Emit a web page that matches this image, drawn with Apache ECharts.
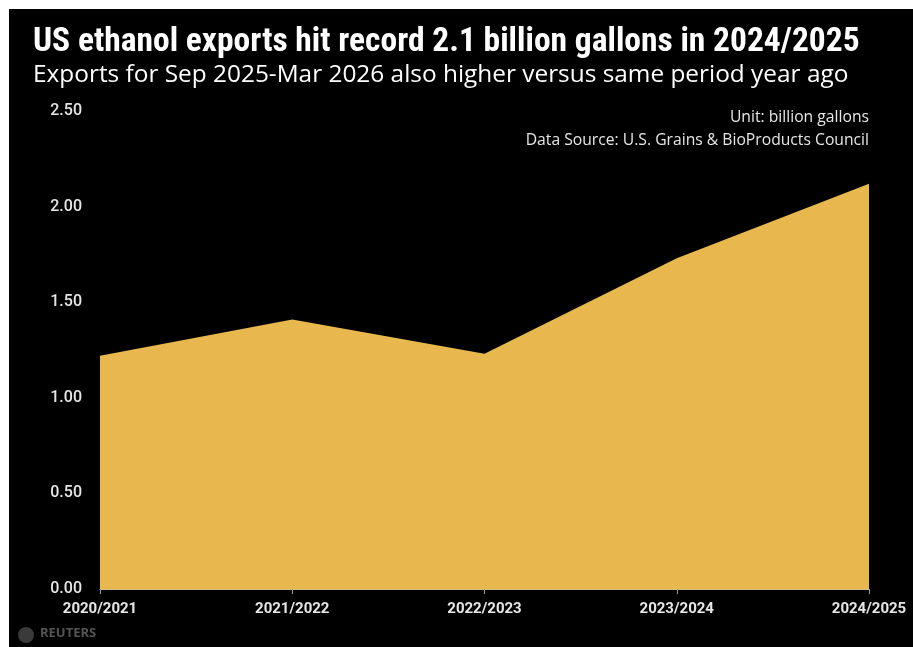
<!DOCTYPE html>
<html>
<head>
<meta charset="utf-8">
<script src="https://cdn.jsdelivr.net/npm/echarts@6/dist/echarts.min.js"></script>
<style>
html,body{margin:0;padding:0;background:#ffffff;width:913px;height:647px;overflow:hidden;}
#chart{position:absolute;left:9px;top:9px;width:904px;height:638px;background:#000;}
</style>
</head>
<body>
<div id="chart"></div>
<script>
const categories = ['2020/2021', '2021/2022', '2022/2023', '2023/2024', '2024/2025'];
const exportsBillionGallons = [1.22, 1.41, 1.23, 1.73, 2.12];
const yTicks = [0, 0.5, 1.0, 1.5, 2.0, 2.5];
const titleText = 'US ethanol exports hit record 2.1 billion gallons in 2024/2025';
const subtitleText = 'Exports for Sep 2025-Mar 2026 also higher versus same period year ago';
const unitText = 'Unit: billion gallons';
const sourceText = 'Data Source: U.S. Grains & BioProducts Council';

const chart = echarts.init(document.getElementById('chart'), null, {renderer: 'canvas'});
chart.setOption({
  backgroundColor: '#000000',
  animation: false,
  title: {
    text: titleText,
    subtext: subtitleText,
    left: 19,
    top: 12,
    itemGap: 3,
    textStyle: {
      color: '#ffffff',
      fontSize: 33.5,
      fontWeight: 'bold',
      fontFamily: '"Liberation Sans Narrow", "Roboto Condensed", Roboto, sans-serif'
    },
    subtextStyle: {
      color: '#ffffff',
      fontSize: 24.4,
      fontWeight: 'normal',
      fontFamily: '"Open Sans", sans-serif'
    }
  },
  graphic: [
    {type: 'text', right: 44, top: 101, style: {text: unitText, fill: '#e6e6e6', font: '15.7px "Open Sans", sans-serif', textAlign: 'right'}},
    {type: 'text', right: 44, top: 124, style: {text: sourceText, fill: '#e6e6e6', font: '15.7px "Open Sans", sans-serif', textAlign: 'right'}},
    {type: 'circle', left: 9, top: 618, shape: {r: 8}, style: {fill: '#3a3a3a'}},
    {type: 'text', left: 31, top: 618, style: {text: 'REUTERS', fill: '#555555', font: 'bold 13px "Open Sans", sans-serif'}}
  ],
  grid: {left: 91, right: 44, top: 102, bottom: 58, containLabel: false},
  xAxis: {
    type: 'category',
    data: categories,
    boundaryGap: false,
    axisLine: {show: true, lineStyle: {color: '#cfc08a', width: 1}},
    axisTick: {show: true, length: 5, lineStyle: {color: '#999999'}},
    axisLabel: {color: '#e6e6e6', fontSize: 15, fontWeight: 'bold', margin: 13, fontFamily: 'Roboto, sans-serif', showMinLabel: true, showMaxLabel: true}
  },
  yAxis: {
    type: 'value',
    min: 0,
    max: 2.5,
    interval: 0.5,
    axisLine: {show: false},
    axisTick: {show: false},
    splitLine: {show: false},
    axisLabel: {
      color: '#e6e6e6', fontSize: 16, fontWeight: 500, margin: 18, fontFamily: 'Roboto, sans-serif',
      formatter: v => yTicks.includes(v) ? v.toFixed(2) : ''
    }
  },
  series: [{
    type: 'line',
    data: exportsBillionGallons,
    symbol: 'none',
    lineStyle: {width: 0, color: '#e8b84f'},
    areaStyle: {color: '#e8b84f', opacity: 1}
  }]
});
</script>
</body>
</html>
